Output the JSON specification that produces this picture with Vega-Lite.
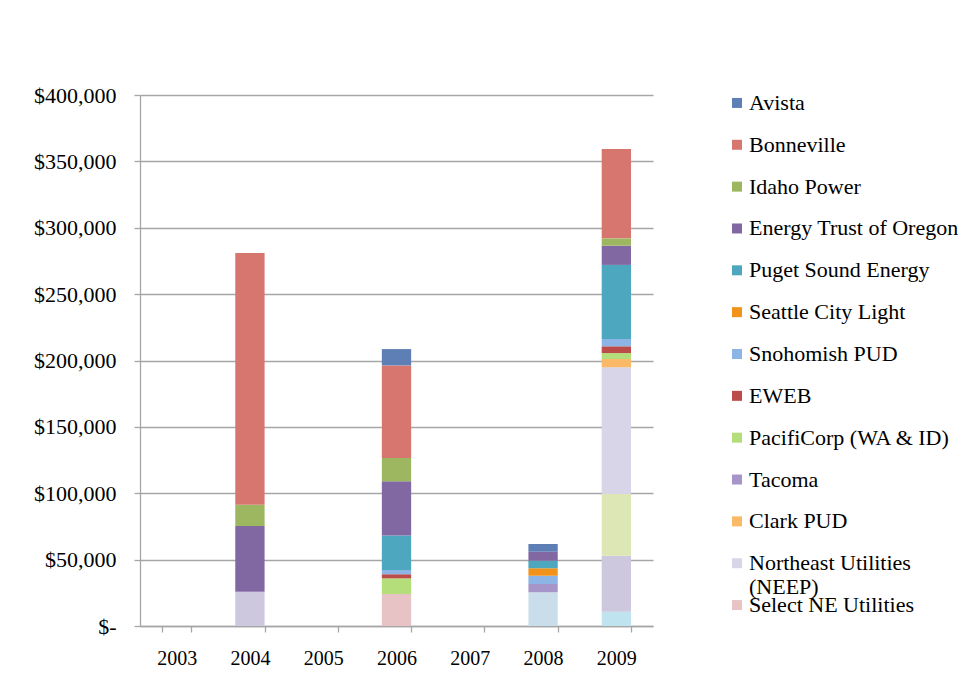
{
  "$schema": "https://vega.github.io/schema/vega-lite/v6.json",
  "autosize": {"type": "pad"},
  "padding": {"left": 33, "top": 84, "right": 2, "bottom": 20},
  "background": "white",
  "bounds": "flush",
  "spacing": 20,
  "config": {
    "view": {"stroke": null},
    "font": "Liberation Serif",
    "axis": {
      "labelFont": "Liberation Serif",
      "labelColor": "#000000",
      "gridColor": "#A6A6A6",
      "gridWidth": 1.3,
      "domainColor": "#A6A6A6",
      "domainWidth": 1.3,
      "tickColor": "#A6A6A6",
      "tickWidth": 1.3,
      "tickSize": 6,
      "title": null
    }
  },
  "datasets": {
    "amounts": [
      {"year": "2004", "utility": "Series 15", "amount": 25800},
      {"year": "2004", "utility": "Energy Trust of Oregon", "amount": 49500},
      {"year": "2004", "utility": "Idaho Power", "amount": 16000},
      {"year": "2004", "utility": "Bonneville", "amount": 189600},
      {"year": "2006", "utility": "Select NE Utilities", "amount": 24100},
      {"year": "2006", "utility": "PacifiCorp (WA & ID)", "amount": 11800},
      {"year": "2006", "utility": "EWEB", "amount": 3100},
      {"year": "2006", "utility": "Snohomish PUD", "amount": 3200},
      {"year": "2006", "utility": "Puget Sound Energy", "amount": 26000},
      {"year": "2006", "utility": "Energy Trust of Oregon", "amount": 40800},
      {"year": "2006", "utility": "Idaho Power", "amount": 17600},
      {"year": "2006", "utility": "Bonneville", "amount": 69700},
      {"year": "2006", "utility": "Avista", "amount": 12300},
      {"year": "2008", "utility": "Series 17", "amount": 25400},
      {"year": "2008", "utility": "Tacoma", "amount": 6200},
      {"year": "2008", "utility": "Snohomish PUD", "amount": 6300},
      {"year": "2008", "utility": "Seattle City Light", "amount": 5600},
      {"year": "2008", "utility": "Puget Sound Energy", "amount": 5700},
      {"year": "2008", "utility": "Energy Trust of Oregon", "amount": 6800},
      {"year": "2008", "utility": "Avista", "amount": 5800},
      {"year": "2009", "utility": "Series 16", "amount": 10800},
      {"year": "2009", "utility": "Series 15", "amount": 42200},
      {"year": "2009", "utility": "Series 14", "amount": 46400},
      {"year": "2009", "utility": "Northeast Utilities (NEEP)", "amount": 95500},
      {"year": "2009", "utility": "Clark PUD", "amount": 6200},
      {"year": "2009", "utility": "PacifiCorp (WA & ID)", "amount": 4500},
      {"year": "2009", "utility": "EWEB", "amount": 5100},
      {"year": "2009", "utility": "Snohomish PUD", "amount": 5500},
      {"year": "2009", "utility": "Puget Sound Energy", "amount": 55800},
      {"year": "2009", "utility": "Energy Trust of Oregon", "amount": 14500},
      {"year": "2009", "utility": "Idaho Power", "amount": 5500},
      {"year": "2009", "utility": "Bonneville", "amount": 67300}
    ],
    "legendEntries": [
      {"utility": "Avista", "label": "Avista"},
      {"utility": "Bonneville", "label": "Bonneville"},
      {"utility": "Idaho Power", "label": "Idaho Power"},
      {"utility": "Energy Trust of Oregon", "label": "Energy Trust of Oregon"},
      {"utility": "Puget Sound Energy", "label": "Puget Sound Energy"},
      {"utility": "Seattle City Light", "label": "Seattle City Light"},
      {"utility": "Snohomish PUD", "label": "Snohomish PUD"},
      {"utility": "EWEB", "label": "EWEB"},
      {"utility": "PacifiCorp (WA & ID)", "label": "PacifiCorp (WA & ID)"},
      {"utility": "Tacoma", "label": "Tacoma"},
      {"utility": "Clark PUD", "label": "Clark PUD"},
      {"utility": "Northeast Utilities (NEEP)", "label": "Northeast Utilities\n(NEEP)"},
      {"utility": "Select NE Utilities", "label": "Select NE Utilities"}
    ]
  },
  "hconcat": [
    {
      "width": 513,
      "height": 531,
      "data": {"name": "amounts"},
      "transform": [
        {
          "calculate": "indexof(['Avista','Bonneville','Idaho Power','Energy Trust of Oregon','Puget Sound Energy','Seattle City Light','Snohomish PUD','EWEB','PacifiCorp (WA & ID)','Tacoma','Clark PUD','Northeast Utilities (NEEP)','Select NE Utilities','Series 14','Series 15','Series 16','Series 17'], datum.utility)",
          "as": "seriesIndex"
        }
      ],
      "mark": {"type": "bar"},
      "encoding": {
        "x": {
          "field": "year",
          "type": "nominal",
          "scale": {
            "domain": ["2003", "2004", "2005", "2006", "2007", "2008", "2009"],
            "paddingInner": 0.6,
            "paddingOuter": 0.3
          },
          "axis": {
            "labelAngle": 0,
            "labelFontSize": 20,
            "labelPadding": 16,
            "tickBand": "extent",
            "grid": false
          }
        },
        "y": {
          "field": "amount",
          "type": "quantitative",
          "stack": "zero",
          "scale": {"domain": [0, 400000], "nice": false},
          "axis": {
            "values": [0, 50000, 100000, 150000, 200000, 250000, 300000, 350000, 400000],
            "labelFontSize": 22,
            "labelPadding": 18,
            "labelExpr": "datum.value == 0 ? '$-' : '$' + format(datum.value, ',')"
          }
        },
        "color": {
          "field": "utility",
          "type": "nominal",
          "scale": {
            "domain": ["Avista", "Bonneville", "Idaho Power", "Energy Trust of Oregon", "Puget Sound Energy", "Seattle City Light", "Snohomish PUD", "EWEB", "PacifiCorp (WA & ID)", "Tacoma", "Clark PUD", "Northeast Utilities (NEEP)", "Select NE Utilities", "Series 14", "Series 15", "Series 16", "Series 17"],
            "range": ["#5E7FB6", "#D6766E", "#9CB760", "#8268A3", "#4DA7BF", "#F1931B", "#8CB4E5", "#BC4C4A", "#B3DE7A", "#A595C9", "#F9B966", "#D9D5E8", "#E8C3C5", "#DCE7B5", "#CDC8DE", "#BFE3EF", "#C9DEEA"]
          },
          "legend": null
        },
        "order": {"field": "seriesIndex", "type": "quantitative", "sort": "descending"}
      }
    },
    {
      "width": 128,
      "height": 518,
      "data": {"name": "legendEntries"},
      "encoding": {
        "y": {
          "field": "utility",
          "type": "nominal",
          "sort": null,
          "scale": {
            "type": "point",
            "domain": ["Avista", "Bonneville", "Idaho Power", "Energy Trust of Oregon", "Puget Sound Energy", "Seattle City Light", "Snohomish PUD", "EWEB", "PacifiCorp (WA & ID)", "Tacoma", "Clark PUD", "Northeast Utilities (NEEP)", "Select NE Utilities"],
            "padding": 0.19
          },
          "axis": null
        }
      },
      "layer": [
        {
          "mark": {"type": "square", "size": 100, "opacity": 1, "filled": true},
          "encoding": {
            "color": {
              "field": "utility",
              "type": "nominal",
              "scale": {
                "domain": ["Avista", "Bonneville", "Idaho Power", "Energy Trust of Oregon", "Puget Sound Energy", "Seattle City Light", "Snohomish PUD", "EWEB", "PacifiCorp (WA & ID)", "Tacoma", "Clark PUD", "Northeast Utilities (NEEP)", "Select NE Utilities", "Series 14", "Series 15", "Series 16", "Series 17"],
                "range": ["#5E7FB6", "#D6766E", "#9CB760", "#8268A3", "#4DA7BF", "#F1931B", "#8CB4E5", "#BC4C4A", "#B3DE7A", "#A595C9", "#F9B966", "#D9D5E8", "#E8C3C5", "#DCE7B5", "#CDC8DE", "#BFE3EF", "#C9DEEA"]
              },
              "legend": null
            }
          }
        },
        {
          "mark": {
            "type": "text",
            "align": "left",
            "baseline": "alphabetic",
            "dx": 12,
            "dy": 7,
            "font": "Liberation Serif",
            "fontSize": 22,
            "lineHeight": 24,
            "lineBreak": "\n",
            "color": "#000000"
          },
          "encoding": {
            "text": {"field": "label", "type": "nominal"}
          }
        }
      ]
    }
  ]
}
